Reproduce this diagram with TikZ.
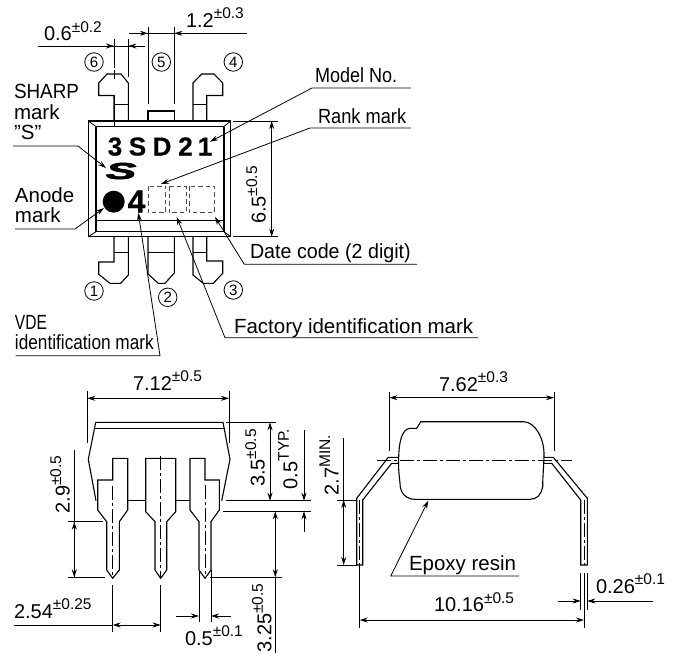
\documentclass[tikz,border=0pt]{standalone}
\usepackage{fontspec}
\usepackage{graphicx}
\setmainfont[BoldFeatures={FakeBold=0.5}]{Liberation Sans}
\newfontfamily\heavyS[BoldItalicFeatures={FakeBold=2.5}]{Liberation Sans}
\usetikzlibrary{arrows.meta}
\newcommand{\dimt}[2]{{\fontsize{20}{20}\selectfont #1}\raisebox{8.5pt}{\fontsize{15.5}{15.5}\selectfont #2}}
\newcommand{\lab}[2][1]{\scalebox{#1}[1]{\fontsize{20.5}{20.5}\selectfont #2}}
\tikzset{
  part/.style={line width=1.1pt,line join=miter},
  thinl/.style={line width=0.8pt},
  dimline/.style={line width=0.8pt},
  tip/.style={-{Stealth[length=8pt,width=5pt]}},
  tips/.style={{Stealth[length=8pt,width=5pt]}-{Stealth[length=8pt,width=5pt]}},
  centerl/.style={line width=0.7pt,dash pattern=on 14pt off 3pt on 3pt off 3pt},
  txt/.style={anchor=base west,inner sep=0pt,outer sep=0pt},
  txtc/.style={anchor=center,inner sep=0pt,outer sep=0pt},
  circn/.style={draw,circle,line width=0.8pt,minimum size=18.5pt,inner sep=0pt,font=\fontsize{15}{15}\selectfont},
  bmark/.style={anchor=base,inner sep=0pt,font=\fontsize{26}{26}\selectfont\bfseries},
  dbox/.style={line width=0.7pt,draw=black!70,dash pattern=on 4.5pt off 3pt}
}
\begin{document}
\begin{tikzpicture}[x=1pt,y=-1pt]
\useasboundingbox (0,0) rectangle (673,654);
\fill[white] (0,0) rectangle (673,654);

% ---------- TOP VIEW ----------
\draw[line width=1.5pt] (88.3,121) rectangle (230.7,236.7);
\draw[line width=1.9pt] (96,126.5) -- (224,126.5);
\draw[part] (96,126.5) -- (96,231.7) -- (224,231.7) -- (224,126.5);
\draw[part] (96,220.7) -- (224,220.7);
\draw[thinl] (88.3,121) -- (96,126.5) (230.7,121) -- (224,126.5) (88.3,236.7) -- (96,231.7) (230.7,236.7) -- (224,231.7);
% pins top
\draw[part] (114,121) -- (114,95.5) -- (98.7,95.5) -- (98.7,83) -- (107,74) -- (121,74) -- (128.3,83) -- (128.3,121);
\draw[thinl] (114,104.5) -- (128.3,104.5);
\draw[part] (148,121) -- (148,111) -- (174.3,111) -- (174.3,121);
\draw[part] (193,121) -- (193,83) -- (201.7,74) -- (214,74) -- (222.7,83) -- (222.7,95.5) -- (206.7,95.5) -- (206.7,121);
\draw[thinl] (193,104.5) -- (206.7,104.5);
% pins bottom
\draw[part] (114,236.7) -- (114,262) -- (98.7,262) -- (98.7,274.3) -- (110,283.3) -- (120.7,283.3) -- (128.3,275) -- (128.3,236.7);
\draw[thinl] (114,252) -- (128.3,252);
\draw[part] (148,236.7) -- (148,274) -- (158.3,283.3) -- (165,283.3) -- (174.3,273) -- (174.3,236.7);
\draw[thinl] (148,252) -- (174.3,252);
\draw[part] (193,236.7) -- (193,275) -- (203.3,283.3) -- (213.3,283.3) -- (222.7,273.3) -- (222.7,261) -- (206.7,261) -- (206.7,236.7);
\draw[thinl] (193,252) -- (206.7,252);
% marks
\node[bmark] (m3) at (115,155.5) {3};
\node[bmark] (mS) at (137.5,155.5) {S};
\node[bmark] (mD) at (162,155.5) {D};
\node[bmark] (m2) at (185.5,155.5) {2};
\node[bmark] (m1) at (205,155.5) {1};
\node[txtc] (sharps) at (121,171) {\scalebox{2.3}[1.15]{\fontsize{20}{20}\heavyS\bfseries\itshape S}};
\fill (113.7,201.7) circle (11);
\node[anchor=base,inner sep=0pt,font=\fontsize{32}{32}\selectfont\bfseries] (m4) at (136.5,212.5) {4};
\draw[dbox] (148.3,186) rectangle (165.7,212.7);
\draw[dbox] (169,186) rectangle (186,212.7);
\draw[dbox] (189.3,186) rectangle (214.3,212.7);
% circled numbers
\node[circn] (c6) at (94,62) {6};
\node[circn] (c5) at (161.3,62) {5};
\node[circn] (c4) at (233.3,62) {4};
\node[circn] (c1) at (94,291) {1};
\node[circn] (c2) at (167.7,297.3) {2};
\node[circn] (c3) at (233.3,290) {3};
% labels
\node[txt] (t1) at (14,98) {\lab[0.92]{SHARP}};
\node[txt] (t2) at (14,119) {\lab{mark}};
\node[txt] (t3) at (14,139) {\lab{\symbol{34}S\symbol{34}}};
\node[txt] (t4) at (15,202) {\lab{Anode}};
\node[txt] (t5) at (15,222) {\lab{mark}};
\node[txt] (t6) at (15,329) {\lab[0.76]{VDE}};
\node[txt] (t7) at (15,349) {\lab[0.84]{identification mark}};
\node[txt] (t8) at (315,82) {\lab[0.88]{Model No.}};
\node[txt] (t9) at (318,123) {\lab[0.89]{Rank mark}};
\node[txt] (t10) at (250,258) {\lab[0.96]{Date code (2 digit)}};
\node[txt] (t11) at (234,333) {\lab[1]{Factory identification mark}};
% leaders
\draw[thinl,tip] (13,146) -- (78,146) -- (106,168);
\draw[thinl,tip] (15,229) -- (75,229) -- (104,208);
\draw[thinl,tip] (15.7,355.7) -- (160,355.7) -- (138.3,213);
\draw[thinl,tip] (478,337.7) -- (225,337.7) -- (176.7,217);
\draw[thinl,tip] (417,264.3) -- (244.3,264.3) -- (215,217);
\draw[thinl,tip] (411,128) -- (310,128) -- (161,184);
\draw[thinl,tip] (411,88) -- (312,88) -- (210,141.7);
% top dims
\draw[dimline] (38,46) -- (145,46);
\draw[dimline,tip] (90,46) -- (114,46);
\draw[dimline,tip] (145,46) -- (128.3,46);
\draw[dimline] (114,39) -- (114,68);
\draw[dimline,dash pattern=on 9pt off 3pt] (114,70) -- (114,82);
\draw[dimline] (114,95) -- (114,127);
\draw[dimline] (128.3,39) -- (128.3,77);
\draw[dimline] (129.3,33.3) -- (246.7,33.3);
\draw[dimline,tip] (130,33.3) -- (148,33.3);
\draw[dimline,tip] (200,33.3) -- (174.3,33.3);
\draw[dimline] (148,27) -- (148,104);
\draw[dimline] (174.3,27) -- (174.3,104);
\node[txt] (d06) at (44,40.5) {\dimt{0.6}{±0.2}};
\node[txt] (d12) at (186,27) {\dimt{1.2}{±0.3}};
\draw[dimline] (233,121) -- (278,121) (233,236.7) -- (278,236.7);
\draw[dimline,tips] (271.7,121) -- (271.7,236.7);
\node[txtc,rotate=90] (d65) at (256,195) {\dimt{6.5}{±0.5}};

% ---------- FRONT VIEW ----------
\draw[part] (95.7,422.3) -- (223,422.3) -- (230,459.3) -- (221.7,500.7);
\draw[part] (95.7,422.3) -- (88.3,459.3) -- (96,500.7);
\draw[part] (94,428.3) -- (225,428.3);
\draw[part] (127.7,500.7) -- (145.7,500.7) (175.7,500.7) -- (190,500.7);
% pins
\draw[part] (112.7,458.3) -- (127.7,458.3) -- (127.7,510) -- (119.3,521.7) -- (119.3,570) -- (112.7,578.3) -- (106.7,570) -- (106.7,521.7) -- (97.7,510) -- (97.7,480) -- (112.7,480) -- cycle;
\draw[part] (145.7,458.3) -- (175.7,458.3) -- (175.7,511.7) -- (166.7,521.7) -- (166.7,570) -- (160.7,578.3) -- (155,570) -- (155,521.7) -- (145.7,511.7) -- cycle;
\draw[part] (190,458.3) -- (205,458.3) -- (205,480) -- (219.3,480) -- (219.3,510) -- (211,521.7) -- (211,570) -- (205,578.3) -- (199,570) -- (199,521.7) -- (190,510) -- cycle;
\draw[centerl] (112.7,486) -- (112.7,578);
\draw[centerl] (160.7,456) -- (160.7,578);
\draw[centerl] (205,485) -- (205,578);
% dims
\draw[dimline] (87.3,390.7) -- (87.3,443.3) (229,390.7) -- (229,443.3);
\draw[dimline,tips] (87.3,398.3) -- (229,398.3);
\node[txt] (d712) at (133,390) {\dimt{7.12}{±0.5}};
\draw[dimline] (74.3,450) -- (74.3,577.3);
\draw[dimline,tip] (74.3,550) -- (74.3,521.7);
\draw[dimline,tip] (74.3,550) -- (74.3,577.3);
\draw[dimline] (68,521.7) -- (103,521.7) (68,577.3) -- (105,577.3);
\node[txtc,rotate=90] (d29) at (60,484.7) {\dimt{2.9}{±0.5}};
\draw[dimline] (226,422.3) -- (276,422.3) (226,500.7) -- (310.7,500.7) (222.7,511.3) -- (310.7,511.3);
\draw[dimline,tips] (270,422.3) -- (270,500.7);
\node[txtc,rotate=90] (d35) at (255,458) {\dimt{3.5}{±0.5}};
\draw[dimline,tip] (304,430) -- (304,500.7);
\draw[dimline,tip] (304,531.7) -- (304,511.3);
\node[txtc,rotate=90] (d05t) at (288,459) {\dimt{0.5}{TYP.}};
\draw[dimline,tip] (275.3,545) -- (275.3,511.3);
\draw[dimline,tip] (275.3,545) -- (275.3,577.3);
\draw[dimline] (275.3,577.3) -- (275.3,653);
\draw[dimline] (210,577.3) -- (281.7,577.3);
\node[txtc,rotate=90] (d325) at (261.7,618) {\dimt{3.25}{±0.5}};
\draw[dimline] (112.7,585) -- (112.7,631.7) (160.7,585) -- (160.7,631.7);
\draw[dimline,tip] (136,625) -- (112.7,625);
\draw[dimline,tip] (136,625) -- (160.7,625);
\draw[dimline] (14,625) -- (112.7,625);
\node[txt] (d254) at (14,618) {\dimt{2.54}{±0.25}};
\draw[dimline] (199,570) -- (199,621.7) (211,570) -- (211,621.7);
\draw[dimline,tip] (176,616) -- (199,616);
\draw[dimline,tip] (230.7,616) -- (211,616);
\node[txt] (d05) at (185,645) {\dimt{0.5}{±0.1}};

% ---------- SIDE VIEW ----------
\draw[part] (420.7,421.7) -- (523.3,421.7) .. controls (536,421.7) and (544,440) .. (544,453)
  .. controls (544,465) and (542.7,475) .. (542.7,486.7) .. controls (541,495) and (537,499.3) .. (530,499.3)
  -- (415,499.3) .. controls (406,499.3) and (400,493) .. (400,483.3) .. controls (398.5,470) and (398.3,465) .. (398.7,456.7)
  .. controls (399,445) and (401,429) .. (410,428.3) -- (416.7,428.3) -- cycle;
\draw[centerl] (376.7,460.3) -- (571.7,460.3);
\draw[part] (398.7,457.3) -- (388.3,457.3) -- (356.7,498.3) -- (356.7,565) -- (362.7,565) -- (362.7,500) -- (391.7,463.3) -- (398.7,463.3);
\draw[part] (544,457.3) -- (553.3,457.3) -- (587.3,498.3) -- (587.3,565) -- (580.7,565) -- (580.7,500) -- (551.7,463.3) -- (544,463.3);
\draw[centerl] (359.7,500) -- (359.7,565);
\draw[centerl] (584,500) -- (584,565);
\draw[dimline] (389.3,391.7) -- (389.3,451) (554,391.7) -- (554,451);
\draw[dimline,tips] (389.3,397.7) -- (554,397.7);
\node[txt] (d762) at (439,391) {\dimt{7.62}{±0.3}};
\draw[dimline] (343.7,438.3) -- (343.7,500);
\draw[dimline,tips] (343.7,500) -- (343.7,565);
\draw[dimline] (337.3,500) -- (356.7,500) (337.3,565) -- (356.7,565);
\node[txtc,rotate=90] (d27) at (329,465) {\dimt{2.7}{MIN.}};
\node[txt] (epoxy) at (409,570) {\lab[1]{Epoxy resin}};
\draw[thinl,tip] (519,576) -- (390.7,576) -- (428.3,500.7);
\draw[dimline] (359.7,565) -- (359.7,628.3) (584,573.3) -- (584,628.3);
\draw[dimline,tips] (359.7,620) -- (584,620);
\node[txt] (d1016) at (434,611.7) {\dimt{10.16}{±0.5}};
\draw[dimline] (580.7,573) -- (580.7,610) (587.3,573) -- (587.3,610);
\draw[dimline,tip] (558.3,601) -- (580.7,601);
\draw[dimline,tip] (652.7,601) -- (587.3,601);
\node[txt] (d026) at (596,593) {\dimt{0.26}{±0.1}};
\end{tikzpicture}
\end{document}
